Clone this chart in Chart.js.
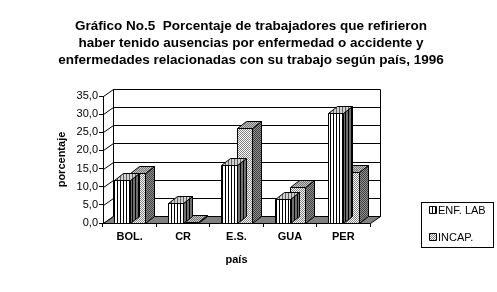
<!DOCTYPE html>
<html><head><meta charset="utf-8">
<script src="https://cdn.jsdelivr.net/npm/chart.js@4"></script>
<style>html,body{margin:0;padding:0;background:#fff;overflow:hidden}#wrap{width:497px;height:292px;position:relative}</style>
</head><body><div id="wrap"><canvas id="c" width="497" height="292"></canvas></div>
<script>
const categories = ['BOL.', 'CR', 'E.S.', 'GUA', 'PER'];
const enfLab = [11.8, 5.6, 16.0, 6.5, 30.2];
const incap = [13.7, 0.3, 26.1, 9.8, 14.1];
const seriesNames = ['ENF. LAB', 'INCAP.'];
const yTicks = [0, 5, 10, 15, 20, 25, 30, 35];
const titleLines = [
  'Gráfico No.5  Porcentaje de trabajadores que refirieron',
  'haber tenido ausencias por enfermedad o accidente y',
  'enfermedades relacionadas con su trabajo según país, 1996'
];
const yTitle = 'porcentaje';
const xTitle = 'país';

const FONT = "'Liberation Sans', Arial, sans-serif";
Chart.defaults.color = '#000';
Chart.defaults.font.family = FONT;

function pat(w, h, fn) {
  const c = document.createElement('canvas');
  c.width = w; c.height = h;
  const g = c.getContext('2d');
  fn(g);
  return document.getElementById('c').getContext('2d').createPattern(c, 'repeat');
}
function stripes(a, b) {
  return pat(3, 1, g => { g.fillStyle = b; g.fillRect(0, 0, 3, 1); g.fillStyle = a; g.fillRect(0, 0, 1, 1); });
}
function checker(a, b) {
  return pat(2, 2, g => { g.fillStyle = b; g.fillRect(0, 0, 2, 2); g.fillStyle = a; g.fillRect(0, 0, 1, 1); g.fillRect(1, 1, 1, 1); });
}
const fills = [
  { front: stripes('#000', '#fff'), side: stripes('#000', '#707070'), top: stripes('#606060', '#d0d0d0') },
  { front: checker('#808080', '#fff'), side: checker('#404040', '#909090'), top: checker('#707070', '#c8c8c8') }
];

const DX = 10, DY = 7;   // depth of walls
const BX = 9, BY = 7;    // depth of bars

function poly(ctx, pts, fill) {
  ctx.beginPath();
  ctx.moveTo(pts[0][0], pts[0][1]);
  for (let i = 1; i < pts.length; i++) ctx.lineTo(pts[i][0], pts[i][1]);
  ctx.closePath();
  if (fill) { ctx.fillStyle = fill; ctx.fill(); }
  ctx.strokeStyle = '#000'; ctx.lineWidth = 1; ctx.stroke();
}

const walls = {
  id: 'walls',
  beforeDatasetsDraw(chart) {
    const ctx = chart.ctx, ys = chart.scales.y, ca = chart.chartArea;
    const x0 = ca.left + 0.5, x1 = ca.right + 0.5;
    const yb = Math.round(ys.getPixelForValue(0)) + 0.5;
    const yt = Math.round(ys.getPixelForValue(yTicks[yTicks.length - 1])) + 0.5;
    ctx.save();
    ctx.fillStyle = '#fff';
    ctx.fillRect(x0 + DX, yt - DY, x1 - x0, yb - yt);
    ctx.strokeStyle = '#000'; ctx.lineWidth = 1;
    ctx.beginPath();
    yTicks.forEach(v => {
      const y = Math.round(ys.getPixelForValue(v)) + 0.5;
      ctx.moveTo(x0, y); ctx.lineTo(x0 + DX, y - DY); ctx.lineTo(x1 + DX, y - DY);
    });
    ctx.moveTo(x0 + DX, yt - DY); ctx.lineTo(x0 + DX, yb - DY);
    ctx.moveTo(x1 + DX, yt - DY); ctx.lineTo(x1 + DX, yb - DY);
    ctx.stroke();
    poly(ctx, [[x0, yb], [x1, yb], [x1 + DX, yb - DY], [x0 + DX, yb - DY]], '#808080');
    ctx.restore();
  },
  afterDatasetDraw(chart, args) {
    const ctx = chart.ctx, i = args.index;
    const meta = chart.getDatasetMeta(i);
    ctx.save();
    meta.data.forEach(bar => {
      const p = bar.getProps(['x', 'y', 'base', 'width'], true);
      const l = Math.round(p.x - p.width / 2) + 0.5, r = Math.round(p.x + p.width / 2) + 0.5;
      const t = Math.round(p.y) + 0.5, b = Math.round(p.base) + 0.5;
      poly(ctx, [[r, t], [r + BX, t - BY], [r + BX, b - BY], [r, b]], fills[i].side);
      poly(ctx, [[l, t], [l + BX, t - BY], [r + BX, t - BY], [r, t]], fills[i].top);
      poly(ctx, [[l, t], [r, t], [r, b], [l, b]], fills[i].front);
    });
    ctx.restore();
  },
  afterDraw(chart) {
    const ctx = chart.ctx;
    ctx.save();
    ctx.strokeStyle = '#000'; ctx.lineWidth = 1;
    ctx.strokeRect(421.5, 202.5, 72, 45);
    ctx.font = '11px ' + FONT;
    ctx.textBaseline = 'middle';
    const rows = [210, 237];
    chart.data.datasets.forEach((ds, i) => {
      poly(ctx, [[429.5, rows[i] - 3.5], [436.5, rows[i] - 3.5], [436.5, rows[i] + 3.5], [429.5, rows[i] + 3.5]], fills[i].front);
      ctx.fillStyle = '#000';
      ctx.fillText(ds.label, 438, rows[i] + 0.5);
    });
    ctx.restore();
  }
};

new Chart(document.getElementById('c'), {
  type: 'bar',
  data: {
    labels: categories,
    datasets: [
      { label: seriesNames[0], data: enfLab, backgroundColor: 'rgba(0,0,0,0)', borderWidth: 0 },
      { label: seriesNames[1], data: incap, backgroundColor: 'rgba(0,0,0,0)', borderWidth: 0 }
    ]
  },
  options: {
    responsive: false,
    animation: false,
    events: [],
    layout: { padding: { left: 5, right: 0, top: 0, bottom: 0 } },
    categoryPercentage: 0.57,
    barPercentage: 1.0,
    plugins: {
      legend: { display: false },
      tooltip: { enabled: false },
      title: {
        display: true,
        text: titleLines,
        font: { size: 13.5, weight: 'bold', lineHeight: '17px' },
        padding: { top: 18, bottom: 27 },
        color: '#000'
      }
    },
    scales: {
      x: {
        grid: { drawOnChartArea: false, tickLength: 4, color: '#000', offset: true },
        border: { display: true, color: '#000' },
        ticks: { font: { size: 11, weight: 'bold' }, padding: 3, maxRotation: 0 },
        title: { display: true, text: xTitle, font: { size: 11, weight: 'bold' }, padding: { top: 0, bottom: 25 } },
        afterFit(s) { s.height = 69; }
      },
      y: {
        min: 0, max: 35,
        afterBuildTicks(s) { s.ticks = yTicks.map(v => ({ value: v })); },
        grid: { drawOnChartArea: false, tickLength: 4, color: '#000' },
        border: { display: true, color: '#000' },
        ticks: { font: { size: 11 }, padding: 1, callback: v => v.toFixed(1).replace('.', ',') },
        title: { display: true, text: yTitle, font: { size: 11, weight: 'bold' }, padding: { top: 50, bottom: 0 } },
        afterFit(s) { s.width = 98; }
      },
      y2: {
        position: 'right', display: true,
        grid: { display: false }, border: { display: false }, ticks: { display: false },
        afterFit(s) { s.width = 127; }
      }
    }
  },
  plugins: [walls]
});
</script>
</body></html>
